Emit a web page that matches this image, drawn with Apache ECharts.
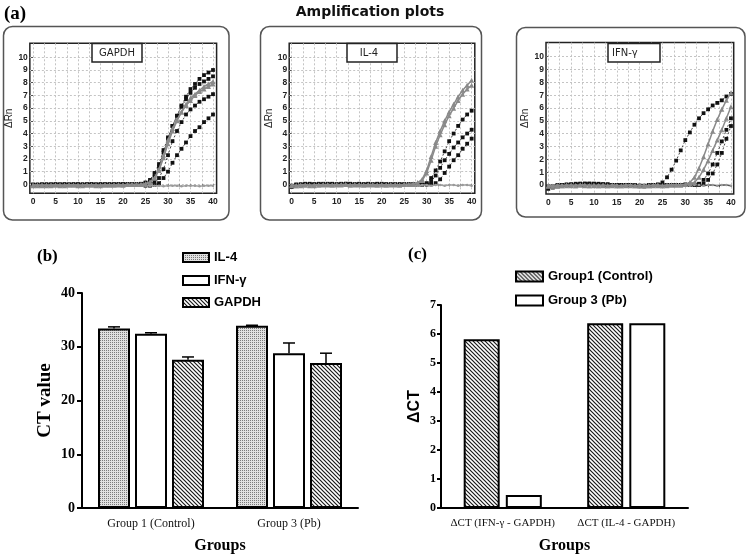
<!DOCTYPE html>
<html><head><meta charset="utf-8">
<script src="https://cdn.jsdelivr.net/npm/echarts@6/dist/echarts.min.js"></script>
<style>html,body{margin:0;padding:0;background:#fff}#c{width:746px;height:558px}</style>
</head><body><div id="c"></div>
<script>
// ---------- DATA ----------
const cycles = [0,1,2,3,4,5,6,7,8,9,10,11,12,13,14,15,16,17,18,19,20,21,22,23,24,25,26,27,28,29,30,31,32,33,34,35,36,37,38,39,40];
const ampXLabels = [0,5,10,15,20,25,30,35,40];
const ampXGrid = [0,2.5,5,7.5,10,12.5,15,17.5,20,22.5,25,27.5,30,32.5,35,37.5,40];
const ampYLabels = [0,1,2,3,4,5,6,7,8,9,10];

// GAPDH amplification curves (ΔRn per cycle)
const gapdhBlk1 = [-0.1,-0.05,-0.05,0,-0.05,0,-0.05,0,0,-0.05,0,0,-0.05,0,0,0,-0.05,0,0,0,0,0,0,0,0.05,0.15,0.35,0.9,1.6,2.7,3.7,4.6,5.4,6.2,6.9,7.5,7.9,8.3,8.6,8.8,9.0];
const gapdhBlk2 = [-0.05,-0.1,0,-0.05,0,-0.05,0,0,-0.05,0,0,-0.05,0,0,-0.05,0,0,0,-0.05,0,0,0,0,0,0,0.1,0.2,0.6,1.4,2.5,3.6,4.6,5.4,6.1,6.7,7.2,7.6,7.9,8.1,8.3,8.5];
const gapdhGry1 = [-0.1,-0.1,-0.05,-0.1,-0.05,-0.05,-0.1,-0.05,-0.05,-0.05,-0.1,-0.05,-0.05,-0.05,-0.1,-0.05,-0.05,-0.05,-0.05,-0.05,-0.05,0,0,0,0,0.05,0.2,0.5,1.1,2.1,3.2,4.2,5.0,5.7,6.3,6.8,7.1,7.4,7.7,7.9,8.1];
const gapdhGry2 = [-0.05,-0.05,-0.1,-0.05,-0.1,-0.05,-0.05,-0.1,-0.05,-0.05,-0.05,-0.1,-0.05,-0.05,-0.05,-0.1,-0.05,-0.05,-0.05,0,-0.05,0,0,0,0,0.05,0.15,0.5,1.2,2.3,3.5,4.4,5.1,5.7,6.2,6.6,7.0,7.3,7.5,7.7,7.9];
const gapdhBlk3 = [-0.05,0,-0.05,0,-0.05,0,0,-0.05,0,0,-0.05,0,0,0,-0.05,0,0,-0.05,0,0,0,0,0,0,0,0,0.05,0.2,0.5,1.2,2.3,3.4,4.2,4.9,5.5,5.9,6.2,6.5,6.7,6.9,7.1];
const gapdhBlk4 = [0,-0.05,0,-0.05,0,0,-0.05,0,-0.05,0,0,-0.05,0,0,0,-0.05,0,0,0,0,0,0,0,-0.05,-0.05,-0.1,-0.1,-0.05,0.1,0.5,1.0,1.7,2.3,2.8,3.3,3.8,4.2,4.5,4.9,5.2,5.5];
const gapdhNtc = [-0.05,-0.1,-0.05,-0.1,-0.05,-0.1,-0.05,-0.1,-0.05,-0.1,-0.05,-0.1,-0.05,-0.1,-0.05,-0.1,-0.05,-0.1,-0.05,-0.1,-0.05,-0.1,-0.05,-0.1,-0.05,-0.1,-0.1,-0.1,-0.1,-0.15,-0.1,-0.1,-0.1,-0.15,-0.1,-0.1,-0.1,-0.15,-0.1,-0.1,-0.1];

// IL-4 amplification curves
const il4Gry1 = [-0.1,-0.1,-0.05,-0.05,-0.1,-0.05,-0.05,-0.05,0,-0.05,-0.05,0,0,-0.05,-0.05,0,-0.05,-0.05,0,-0.05,-0.05,-0.05,0,-0.05,-0.05,0,0,0.05,0.15,0.4,1.1,2.2,3.3,4.2,5.0,5.7,6.3,6.9,7.4,7.8,8.2];
const il4Gry2 = [-0.05,-0.1,-0.1,-0.05,-0.05,-0.1,-0.05,0,-0.05,-0.05,0,-0.05,0,-0.05,0,-0.05,-0.05,0,-0.05,-0.05,0,-0.05,-0.05,0,-0.05,0,0,0,0.1,0.3,0.9,1.9,3.0,3.9,4.7,5.4,6.0,6.6,7.1,7.5,7.8];
const il4Blk1 = [-0.2,-0.1,-0.05,0,0,0,0.05,0,0,0.05,0,0.05,0.05,0,0,0.05,0,0,0,0,0.05,0,0,0,0,0,0,0,0,0,0.1,0.5,1.1,1.8,2.6,3.4,4.0,4.6,5.1,5.5,5.8];
const il4Blk2 = [-0.15,-0.05,0,0,0.05,0,0,0,0.05,0,0,0,0.05,0,0,0,0,0.05,0,0,0,0,0,0,0,0,0,0,0,0,0,0.2,0.7,1.3,1.9,2.4,2.9,3.3,3.7,4.0,4.3];
const il4Blk3 = [-0.1,0,0,0.05,0,0,0,0.05,0,0,0,0,0,0.05,0,0,0,0,0,0.05,0,0,0,0,0,0,0,0,0,0,0,0,0.1,0.4,0.9,1.4,1.9,2.3,2.8,3.2,3.6];
const il4Ntc = [-0.05,-0.1,-0.05,-0.05,-0.1,-0.05,-0.05,-0.1,-0.05,-0.05,-0.1,-0.05,-0.05,-0.1,-0.05,-0.05,-0.1,-0.05,-0.05,-0.1,-0.05,-0.05,-0.1,-0.05,-0.05,-0.1,-0.05,-0.05,-0.1,-0.05,-0.05,-0.1,-0.05,-0.05,-0.1,-0.05,-0.05,-0.1,-0.05,-0.05,-0.1];

// IFN-γ amplification curves
const ifnBlk1 = [-0.3,-0.2,-0.1,0,0,0,0,0.05,0.1,0.1,0.1,0.1,0.05,0.05,0,0,0,0,0,-0.05,-0.1,-0.1,-0.05,0,0.05,0.2,0.6,1.2,1.9,2.7,3.5,4.1,4.7,5.2,5.6,5.9,6.2,6.4,6.6,6.9,7.1];
const ifnGry1 = [-0.1,-0.1,-0.05,-0.05,0,-0.05,-0.05,0,0,-0.05,-0.05,-0.05,0,-0.05,-0.05,-0.05,-0.05,0,-0.05,-0.05,-0.05,-0.05,-0.05,-0.05,0,-0.05,-0.05,0,0,0,0.05,0.2,0.6,1.3,2.2,3.2,4.2,5.1,5.9,6.6,7.2];
const ifnGry2 = [-0.05,-0.1,-0.1,-0.05,-0.05,0,-0.05,0,-0.05,-0.05,0,-0.05,-0.05,-0.05,0,-0.05,-0.05,-0.05,0,-0.05,-0.05,-0.05,-0.05,0,-0.05,-0.05,0,0,0,0,0.05,0.1,0.2,0.6,1.2,1.9,2.7,3.5,4.3,5.2,6.1];
const ifnBlk2 = [-0.2,-0.15,-0.05,0,0,0.05,0.05,0.1,0.1,0.1,0.1,0.05,0.05,0.05,0,0,0,0,0,-0.05,-0.05,-0.1,-0.05,0,0,0,0,0,0,0,0.05,0.05,0.05,0.1,0.4,0.9,1.6,2.5,3.4,4.3,5.2];
const ifnBlk3 = [-0.1,-0.1,0,0,0.05,0.05,0.1,0.1,0.1,0.1,0.05,0.05,0.05,0,0,0,0,0,0,0,-0.05,-0.05,0,0,0,0,0,0,0,0,0,0,0,0,0.1,0.4,0.9,1.6,2.5,3.6,4.6];
const ifnNtc = [0,-0.05,0,0,-0.05,0,0,-0.05,0,0,-0.05,0,0,-0.05,0,0,-0.05,0,0,-0.05,0,0,-0.05,0,0,-0.05,0,0,-0.05,0,0,-0.05,0,0,-0.05,0,0,-0.05,0,0,-0.05];

// (b) CT values
const ctGroups = ['Group 1 (Control)', 'Group 3 (Pb)'];
const il4CT = [33.4, 33.9];
const ifnCT = [32.4, 28.8];
const gapdhCT = [27.6, 27.0];
const il4CTErr = [33.7, 34.0];
const ifnCTErr = [32.6, 30.7];
const gapdhCTErr = [28.1, 28.8];
const ctTicks = [0,10,20,30,40];

// (c) ΔCT values
const dctGroups = ['ΔCT (IFN-γ - GAPDH)', 'ΔCT (IL-4 - GAPDH)'];
const group1DCT = [5.82, 6.37];
const group3DCT = [0.45, 6.37];

// ---------- STYLE HELPERS ----------
const SERIF = 'Liberation Serif', SANS = 'Liberation Sans';
function hatchPattern(){
  const s=4, c=document.createElement('canvas'); c.width=s; c.height=s;
  const g=c.getContext('2d'); g.fillStyle='#fff'; g.fillRect(0,0,s,s);
  g.strokeStyle='#1a1a1a'; g.lineWidth=1.2; g.beginPath();
  g.moveTo(0,0); g.lineTo(s,s); g.moveTo(-1,s-1); g.lineTo(1,s+1); g.moveTo(s-1,-1); g.lineTo(s+1,1);
  g.stroke(); return {image:c, repeat:'repeat'};
}
function dotPattern(){
  const c=document.createElement('canvas'); c.width=2; c.height=2;
  const g=c.getContext('2d'); g.fillStyle='#e0e0e0'; g.fillRect(0,0,2,2);
  g.fillStyle='#7a7a7a'; g.fillRect(0,0,1,1);
  return {image:c, repeat:'repeat'};
}
const HATCH = hatchPattern(), DOTS = dotPattern();

function curve(g, arr, kind){
  const black = kind==='b', ntc = kind==='n';
  return {
    type:'line', xAxisIndex:g, yAxisIndex:g, silent:true, animation:false,
    data: cycles.map((c,i)=>[c, arr[i]]),
    symbol: black?'rect':(ntc?'circle':'triangle'),
    symbolSize: black?3.8:(ntc?2.5:5),
    showAllSymbol:true,
    itemStyle:{color: black?'#111':(ntc?'#9a9a9a':'#8a8a8a')},
    lineStyle:{color: black?'#444':(ntc?'#a0a0a0':'#8a8a8a'), width: black?1:1.5, type: black?[2,2]:'solid'},
    z: black?3:4
  };
}

const ampGrids = [
  {left:29.85, top:43.3, width:186.75, height:150, xmin:-0.7, xmax:40.8, ymin:-0.7, ymax:11.1},
  {left:289.2, top:43.3, width:185.6, height:150, xmin:-0.55, xmax:40.7, ymin:-0.7, ymax:11.1},
  {left:546, top:42.6, width:187.7, height:151.4, xmin:-0.5, xmax:40.6, ymin:-0.7, ymax:11.1}
];
const ampNameGap = [11, 9, 13];

const grids = [], xAxes = [], yAxes = [];
ampGrids.forEach((g,i)=>{
  grids.push({left:g.left, top:g.top, width:g.width, height:g.height, show:true, borderColor:'#222', borderWidth:1.5, backgroundColor:'transparent'});
  xAxes.push({type:'value', gridIndex:i, min:g.xmin, max:g.xmax,
    axisLine:{show:false},
    axisTick:{show:true, length:2, customValues:ampXGrid, lineStyle:{color:'#555'}},
    axisLabel:{customValues:ampXLabels, fontSize:8.5, fontFamily:SANS, fontWeight:'bold', color:'#222', margin:4},
    splitLine:{show:true, lineStyle:{color:'#c4c4c4', type:[2,2], width:1}}});
  yAxes.push({type:'value', gridIndex:i, min:g.ymin, max:g.ymax,
    name:'ΔRn', nameLocation:'middle', nameGap:ampNameGap[i], nameRotate:90,
    nameTextStyle:{fontFamily:SANS, fontSize:10, color:'#222'},
    axisLine:{show:false},
    axisTick:{show:true, length:2, customValues:ampYLabels, lineStyle:{color:'#555'}},
    axisLabel:{customValues:ampYLabels, fontSize:8.5, fontFamily:SANS, fontWeight:'bold', color:'#222', margin:2},
    splitLine:{show:true, lineStyle:{color:'#c4c4c4', type:[2,2], width:1}}});
});

// (b)
grids.push({left:82, top:293, width:276, height:215});
xAxes.push({type:'category', gridIndex:3, data:ctGroups,
  name:'Groups', nameLocation:'middle', nameGap:30,
  nameTextStyle:{fontFamily:SERIF, fontWeight:'bold', fontSize:16, color:'#000'},
  axisLine:{lineStyle:{color:'#000', width:2}}, axisTick:{show:false},
  axisLabel:{interval:0, fontFamily:SERIF, fontSize:12, color:'#111', margin:10}});
yAxes.push({type:'value', gridIndex:3, min:0, max:40, interval:10,
  name:'CT value', nameLocation:'middle', nameGap:27, nameRotate:90,
  nameTextStyle:{fontFamily:SERIF, fontWeight:'bold', fontSize:19, color:'#000'},
  axisLine:{show:true, lineStyle:{color:'#000', width:2}},
  axisTick:{show:true, length:5, lineStyle:{color:'#000', width:2}},
  axisLabel:{fontFamily:SERIF, fontWeight:'bold', fontSize:14, color:'#000', margin:7},
  splitLine:{show:false}});

// (c)
grids.push({left:441, top:305, width:247, height:203});
xAxes.push({type:'category', gridIndex:4, data:dctGroups,
  name:'Groups', nameLocation:'middle', nameGap:30,
  nameTextStyle:{fontFamily:SERIF, fontWeight:'bold', fontSize:16, color:'#000'},
  axisLine:{lineStyle:{color:'#000', width:2}}, axisTick:{show:false},
  axisLabel:{interval:0, hideOverlap:false, fontFamily:SERIF, fontSize:11, color:'#111', margin:10}});
yAxes.push({type:'value', gridIndex:4, min:0, max:7, interval:1,
  name:'ΔCT', nameLocation:'middle', nameGap:18, nameRotate:90,
  nameTextStyle:{fontFamily:SANS, fontWeight:'bold', fontSize:16, color:'#000'},
  axisLine:{show:true, lineStyle:{color:'#000', width:2}},
  axisTick:{show:true, length:4, lineStyle:{color:'#000', width:2}},
  axisLabel:{fontFamily:SERIF, fontWeight:'bold', fontSize:12, color:'#000', margin:5},
  splitLine:{show:false}});

const series = [];
// amplification plots
[[gapdhBlk1,'b'],[gapdhBlk2,'b'],[gapdhBlk3,'b'],[gapdhBlk4,'b'],[gapdhNtc,'n'],[gapdhGry1,'g'],[gapdhGry2,'g']]
  .forEach(([a,k])=>series.push(curve(0,a,k)));
[[il4Blk1,'b'],[il4Blk2,'b'],[il4Blk3,'b'],[il4Ntc,'n'],[il4Gry1,'g'],[il4Gry2,'g']]
  .forEach(([a,k])=>series.push(curve(1,a,k)));
[[ifnBlk1,'b'],[ifnBlk2,'b'],[ifnBlk3,'b'],[ifnNtc,'n'],[ifnGry1,'g'],[ifnGry2,'g']]
  .forEach(([a,k])=>{const s=curve(2,a,k); if(k==='n'){s.lineStyle.color='#555';} series.push(s);});

// (b) bars
const BW_B = 32, GAP_B = 5;
function ctBar(name, vals, fill){
  return {type:'bar', name, xAxisIndex:3, yAxisIndex:3, data:vals, barWidth:BW_B, barGap:(GAP_B/BW_B*100)+'%',
    itemStyle:{color:fill, borderColor:'#000', borderWidth:2}, silent:true, animation:false};
}
series.push(ctBar('IL-4', il4CT, DOTS));
series.push(ctBar('IFN-γ', ifnCT, '#fff'));
series.push(ctBar('GAPDH', gapdhCT, HATCH));
function errSeries(vals, errs, slot){
  const off = (slot-1)*(BW_B+GAP_B);
  return {type:'custom', xAxisIndex:3, yAxisIndex:3, z:5, silent:true, animation:false,
    data: vals.map((v,i)=>[i, v, errs[i]]),
    renderItem(params, api){
      const b = api.coord([api.value(0), api.value(1)]);
      const t = api.coord([api.value(0), api.value(2)]);
      const x = b[0]+off;
      return {type:'group', children:[
        {type:'line', shape:{x1:x,y1:b[1],x2:x,y2:t[1]}, style:{stroke:'#000', lineWidth:1.5}},
        {type:'line', shape:{x1:x-6,y1:t[1],x2:x+6,y2:t[1]}, style:{stroke:'#000', lineWidth:1.5}}
      ]};
    }};
}
series.push(errSeries(il4CT, il4CTErr, 0));
series.push(errSeries(ifnCT, ifnCTErr, 1));
series.push(errSeries(gapdhCT, gapdhCTErr, 2));

// (c) bars
function dctBar(name, vals, fill){
  return {type:'bar', name, xAxisIndex:4, yAxisIndex:4, data:vals, barWidth:36, barGap:'17%',
    itemStyle:{color:fill, borderColor:'#000', borderWidth:2}, silent:true, animation:false};
}
series.push(dctBar('Group1 (Control)', group1DCT, HATCH));
series.push(dctBar('Group 3 (Pb)', group3DCT, '#fff'));

function leg(name, left, top, w, h){
  return {data:[name], left, top, orient:'vertical', icon:'rect', itemWidth:w, itemHeight:h, padding:0, itemGap:0,
    selectedMode:false, textStyle:{fontFamily:SANS, fontWeight:'bold', fontSize:13, color:'#000'}};
}

const boxStyle = {fill:'#fff', stroke:'#555', lineWidth:1.5};
const graphic = [
  {type:'rect', z:-10, shape:{x:3.5, y:26.5, width:225.5, height:193.5, r:9}, style:boxStyle, silent:true},
  {type:'rect', z:-10, shape:{x:260.5, y:26.5, width:221, height:193.5, r:9}, style:boxStyle, silent:true},
  {type:'rect', z:-10, shape:{x:516.5, y:27.5, width:228.5, height:189.5, r:9}, style:boxStyle, silent:true},
  {type:'rect', z:100, shape:{x:92, y:43.5, width:50, height:18.5}, style:{fill:'#fff', stroke:'#222', lineWidth:1.5}, silent:true},
  {type:'text', z:101, x:117, y:53, style:{text:'GAPDH', font:'10px "DejaVu Sans"', fill:'#222', align:'center', verticalAlign:'middle'}, silent:true},
  {type:'rect', z:100, shape:{x:347, y:43.5, width:50, height:18.5}, style:{fill:'#fff', stroke:'#222', lineWidth:1.5}, silent:true},
  {type:'text', z:101, x:369, y:53, style:{text:'IL-4', font:'10px "DejaVu Sans"', fill:'#222', align:'center', verticalAlign:'middle'}, silent:true},
  {type:'rect', z:100, shape:{x:608, y:43.5, width:52, height:18.5}, style:{fill:'#fff', stroke:'#222', lineWidth:1.5}, silent:true},
  {type:'text', z:101, x:612, y:53, style:{text:'IFN-γ', font:'10px "DejaVu Sans"', fill:'#222', align:'left', verticalAlign:'middle'}, silent:true},
  {type:'text', x:370, y:12, style:{text:'Amplification plots', font:'bold 14px "DejaVu Sans"', fill:'#111', align:'center', verticalAlign:'middle'}, silent:true},
  {type:'text', x:4, y:14, style:{text:'(a)', font:'bold 19px "Liberation Serif"', fill:'#000', align:'left', verticalAlign:'middle'}, silent:true},
  {type:'text', x:37, y:257, style:{text:'(b)', font:'bold 17px "Liberation Serif"', fill:'#000', align:'left', verticalAlign:'middle'}, silent:true},
  {type:'text', x:408, y:255, style:{text:'(c)', font:'bold 17px "Liberation Serif"', fill:'#000', align:'left', verticalAlign:'middle'}, silent:true}
];

const chart = echarts.init(document.getElementById('c'), null, {renderer:'canvas'});
chart.setOption({
  animation:false,
  backgroundColor:'#fff',
  grid:grids, xAxis:xAxes, yAxis:yAxes, series,
  legend:[
    leg('IL-4', 182, 251, 26, 9),
    leg('IFN-γ', 182, 274, 26, 9),
    leg('GAPDH', 182, 296, 26, 9),
    leg('Group1 (Control)', 515, 270, 27, 10),
    leg('Group 3 (Pb)', 515, 294, 27, 10)
  ],
  graphic
});
</script></body></html>
